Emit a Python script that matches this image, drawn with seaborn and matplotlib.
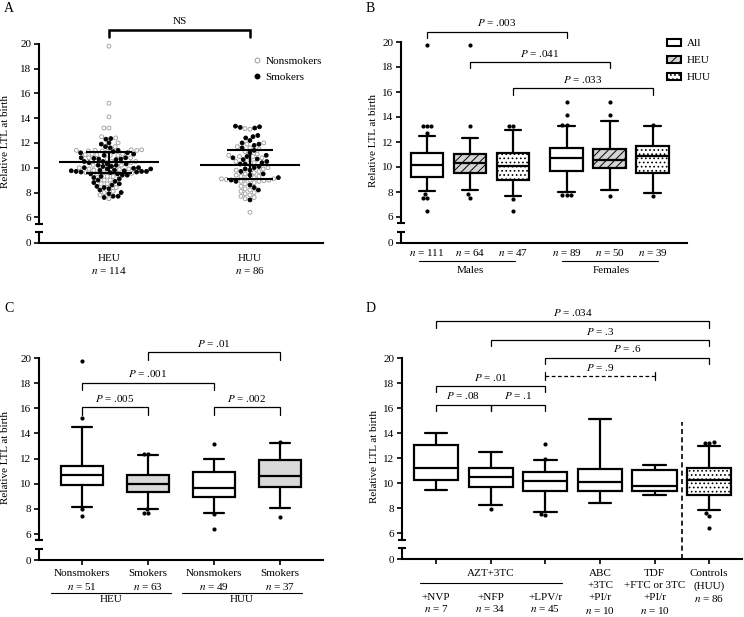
import numpy as np
import pandas as pd
import matplotlib
matplotlib.use("Agg")
import matplotlib.pyplot as plt
import matplotlib.transforms as mtransforms
from matplotlib.patches import Patch
from matplotlib.lines import Line2D
import seaborn as sns

# ---------------- data ----------------
Y0 = 3.93  # where the "0" of the broken axis sits

# panel A: individual values
heu_nonsmokers = [19.8, 15.2, 14.1, 13.2, 13.2, 12.5, 12.4, 12.0, 11.7,
                  11.45, 11.45, 11.4, 11.4, 11.4, 11.35, 11.35, 11.3,
                  11.1, 11.1, 11.05, 11.05, 11.0, 11.0,
                  10.8, 10.8, 10.7, 10.5, 10.5, 10.4, 10.2, 10.2,
                  9.9, 9.9, 9.85, 9.8, 9.6, 9.6, 9.55, 9.5,
                  9.3, 9.3, 9.0, 9.0, 8.7, 8.7, 8.4, 8.1, 8.0, 7.8, 7.5, 10.0]
heu_smokers = [12.35, 12.3, 12.0, 11.9, 11.7, 11.6, 11.4, 11.3, 11.2, 11.2,
               11.1, 11.0, 10.8, 10.8, 10.75, 10.7, 10.7, 10.65, 10.5, 10.5,
               10.4, 10.3, 10.3, 10.2, 10.2, 10.1, 10.1, 10.0, 10.0, 9.95,
               9.9, 9.9, 9.8, 9.8, 9.75, 9.75, 9.7, 9.7, 9.7, 9.65,
               9.65, 9.6, 9.5, 9.5, 9.4, 9.4, 9.3, 9.2, 9.1, 9.0,
               8.9, 8.8, 8.7, 8.6, 8.5, 8.4, 8.3, 8.2, 8.0, 7.9,
               7.7, 7.7, 7.6]
huu_nonsmokers = [13.15, 13.1, 12.0, 11.9, 11.7, 11.6, 11.5, 11.3, 11.1, 11.0,
                  10.9, 10.9, 10.8, 10.6, 10.5, 10.4, 10.2, 10.0, 9.9, 9.8,
                  9.7, 9.6, 9.5, 9.4, 9.3, 9.3, 9.2, 9.1, 9.1, 9.1,
                  9.05, 9.0, 9.0, 8.95, 8.9, 8.9, 8.8, 8.7, 8.5, 8.3,
                  8.2, 8.1, 8.0, 7.9, 7.8, 7.7, 7.6, 7.5, 6.4]
huu_smokers = [13.35, 13.3, 13.25, 13.2, 12.6, 12.5, 12.4, 12.2, 12.0, 11.9,
               11.8, 11.6, 11.4, 11.2, 11.0, 10.9, 10.8, 10.7, 10.65, 10.5,
               10.4, 10.3, 10.3, 10.1, 10.0, 9.9, 9.8, 9.7, 9.5, 9.4,
               9.2, 9.0, 8.9, 8.6, 8.4, 8.2, 7.4]
a_groups = ["HEU", "HUU"]
a_n = [114, 86]
a_mean = [10.42, 10.25]
a_sd = [0.85, 1.18]

# panel B: box statistics (All / HEU / HUU, males then females)
b_n = [111, 64, 47, 89, 50, 39]
b_q1 = [9.2, 9.55, 9.0, 9.7, 9.95, 9.55]
b_med = [10.15, 10.3, 10.05, 10.75, 10.6, 10.85]
b_q3 = [11.1, 11.05, 11.1, 11.5, 11.45, 11.65]
b_lo = [8.1, 8.2, 7.7, 8.0, 8.15, 7.9]
b_hi = [12.5, 12.3, 13.0, 13.3, 13.65, 13.3]
b_fliers = [[19.8, 13.28, 13.28, 13.28, 12.75, 7.85, 7.55, 7.55, 6.45],
            [19.8, 13.25, 7.85, 7.55],
            [13.3, 13.3, 7.45, 6.45],
            [15.2, 14.15, 13.4, 13.4, 7.8, 7.75, 7.75],
            [15.2, 14.15, 7.7],
            [13.4, 7.65]]
b_pvals = [".003", ".041", ".033"]

# panel C
c_labels = ["Nonsmokers", "Smokers", "Nonsmokers", "Smokers"]
c_n = [51, 63, 49, 37]
c_q1 = [9.9, 9.35, 8.93, 9.72]
c_med = [10.7, 10.0, 9.62, 10.65]
c_q3 = [11.37, 10.73, 10.9, 11.9]
c_lo = [8.18, 7.98, 7.68, 8.1]
c_hi = [14.55, 12.25, 11.96, 13.23]
c_fliers = [[19.8, 15.2, 8.0, 7.46],
            [12.38, 12.38, 8.0, 7.68, 7.68],
            [13.15, 7.6, 6.4],
            [13.34, 7.38]]
c_pvals = [".005", ".001", ".01", ".002"]

# panel D
d_q1 = [10.27, 9.68, 9.36, 9.41, 9.36, 9.07]
d_med = [11.2, 10.53, 10.19, 10.08, 9.79, 10.27]
d_q3 = [13.07, 11.2, 10.88, 11.12, 11.07, 11.25]
d_lo = [9.47, 8.24, 7.68, 8.45, 9.09, 7.87]
d_hi = [14.05, 12.48, 11.87, 15.15, 11.49, 12.99]
d_fliers = [[], [7.97], [13.15, 11.95, 7.57, 7.47], [], [],
            [13.3, 13.25, 13.25, 7.6, 7.36, 6.4]]
d_pvals = [".034", ".3", ".6", ".9", ".01", ".08", ".1"]

# ---------------- style ----------------
sns.set_style("ticks", {"axes.edgecolor": "black", "xtick.color": "black",
                        "ytick.color": "black", "text.color": "black",
                        "axes.labelcolor": "black"})
plt.rcParams["font.family"] = ["Liberation Serif", "DejaVu Serif"]
plt.rcParams["mathtext.fontset"] = "stix"
plt.rcParams["font.size"] = 8
plt.rcParams["hatch.linewidth"] = 0.7

W, H = 744, 617
fig = plt.figure(figsize=(W / 100, H / 100), dpi=100)
fig.patch.set_facecolor("white")


def make_axes(left, right, y20, y6, xlim, xticks, ylab_px):
    pu = (y6 - y20) / 14
    top = y20 - 0.3 * pu
    bottom = y6 + (6 - Y0) * pu
    ax = fig.add_axes([left / W, 1 - bottom / H, (right - left) / W, (bottom - top) / H])
    ax.set_facecolor("none")
    return ax, dict(xlim=xlim, xticks=xticks, ylab=(ylab_px - left) / (right - left))


def finish(ax, opts):
    ax.set_xlim(*opts["xlim"])
    ax.set_ylim(Y0, 20.3)
    sns.despine(ax=ax)
    ax.spines["left"].set_bounds(5.5, 20)
    for s in ["left", "bottom"]:
        ax.spines[s].set_linewidth(1.5)
    ax.set_yticks([Y0] + list(range(6, 21, 2)))
    ax.set_yticklabels(["0"] + [str(v) for v in range(6, 21, 2)])
    ax.tick_params(axis="y", length=3.5, width=1.2, pad=2, labelsize=8)
    ax.set_xticks(opts["xticks"])
    ax.set_xticklabels([])
    ax.tick_params(axis="x", length=3.5, width=1.2)
    blend = mtransforms.blended_transform_factory(ax.transAxes, ax.transData)
    ax.plot([0, 0], [Y0, 4.8], color="k", lw=1.5, transform=blend, clip_on=False,
            solid_capstyle="butt")
    ax.plot([0, 0], [5.5, 4.8], ls="", marker="_", ms=6, mew=1.5, color="k",
            transform=blend, clip_on=False)
    ax.set_xlabel("")
    ax.set_ylabel("Relative LTL at birth", fontsize=8)
    ax.yaxis.set_label_coords(opts["ylab"], 0.5)


def under(ax, x, ypx, s, **kw):
    tr = mtransforms.blended_transform_factory(ax.transData, fig.transFigure)
    ax.text(x, 1 - ypx / H, s, transform=tr, ha="center", va="center", fontsize=8, **kw)


def underline(ax, x1, x2, ypx):
    tr = mtransforms.blended_transform_factory(ax.transData, fig.transFigure)
    ax.plot([x1, x2], [1 - ypx / H] * 2, color="k", lw=0.8, transform=tr, clip_on=False)


def bracket(ax, x1, x2, y, label, drop=0.5, lw=0.9, dashed=False):
    if dashed:
        ax.plot([x1, x2], [y, y], color="k", lw=lw, ls=(0, (3, 2)), clip_on=False)
        for xx in (x1, x2):
            ax.plot([xx, xx], [y - 0.35, y + 0.35], color="k", lw=lw, clip_on=False)
    else:
        ax.plot([x1, x1, x2, x2], [y - drop, y, y, y - drop], color="k", lw=lw,
                clip_on=False, solid_joinstyle="miter")
    ax.text((x1 + x2) / 2, y + 0.7, label, ha="center", va="center", fontsize=8)


def boxes(ax, pos, q1, med, q3, lo, hi, width, capw, faces, hatches):
    stats = [dict(med=m, q1=a, q3=b, whislo=l, whishi=h, fliers=[])
             for a, m, b, l, h in zip(q1, med, q3, lo, hi)]
    res = ax.bxp(stats, positions=pos, widths=width, capwidths=capw,
                 patch_artist=True, showfliers=False, manage_ticks=False,
                 boxprops=dict(lw=1.6, edgecolor="k"),
                 whiskerprops=dict(lw=1.6, color="k"),
                 capprops=dict(lw=1.6, color="k"),
                 medianprops=dict(lw=1.6, color="k"))
    for patch, fc, ht in zip(res["boxes"], faces, hatches):
        patch.set_facecolor(fc)
        patch.set_hatch(ht)


def fliers(ax, pos, flier_lists):
    xs, ys = [], []
    for p, fl in zip(pos, flier_lists):
        xs += [p] * len(fl)
        ys += fl
    sns.swarmplot(x=xs, y=ys, native_scale=True, orient="x", color="black",
                  size=3, linewidth=0, ax=ax, zorder=4)


HATCH_HEU = "////"
HATCH_HUU = "...."

# ---------------- panel A ----------------
ax, opts = make_axes(39, 323, 43.7, 217.3, (-0.496, 1.518), [], 10)
df_a = pd.DataFrame({
    "group": ["HEU"] * (len(heu_nonsmokers) + len(heu_smokers))
             + ["HUU"] * (len(huu_nonsmokers) + len(huu_smokers)),
    "smoking": ["Nonsmokers"] * len(heu_nonsmokers) + ["Smokers"] * len(heu_smokers)
               + ["Nonsmokers"] * len(huu_nonsmokers) + ["Smokers"] * len(huu_smokers),
    "ltl": heu_nonsmokers + heu_smokers + huu_nonsmokers + huu_smokers,
})
sns.swarmplot(data=df_a, x="group", y="ltl", hue="smoking", order=a_groups,
              hue_order=["Nonsmokers", "Smokers"],
              palette={"Nonsmokers": "white", "Smokers": "black"},
              size=2.8, linewidth=0.6, edgecolor="#999999", legend=False, ax=ax, zorder=2)
for coll in ax.collections:
    fc = coll.get_facecolors()
    if len(fc):
        ec = ["#9a9a9a" if c[:3].sum() > 2.5 else "black" for c in fc]
        coll.set_edgecolors(ec)
pos_a = np.arange(len(a_groups))
m = np.array(a_mean)
sd = np.array(a_sd)
ax.hlines(m, pos_a - 0.355, pos_a + 0.355, color="k", lw=1.5, zorder=5)
ax.hlines(m - sd, pos_a - 0.165, pos_a + 0.165, color="k", lw=1.5, zorder=5)
ax.hlines(m + sd, pos_a - 0.165, pos_a + 0.165, color="k", lw=1.5, zorder=5)
ax.vlines(pos_a, m - sd, m + sd, color="k", lw=1.5, zorder=5)
finish(ax, opts)
ax.tick_params(axis="x", length=0)
for p, g, n in zip(pos_a, a_groups, a_n):
    under(ax, p, 258, g)
    under(ax, p, 270, f"$n$ = {n}")
bracket(ax, 0, 1, 21.13, "NS", drop=0.57, lw=1.8)
fig.legend(handles=[Line2D([], [], marker="o", ls="", mfc="white", mec="#9a9a9a", mew=0.7, ms=3.5),
                    Line2D([], [], marker="o", ls="", mfc="black", mec="black", ms=3.2)],
           labels=["Nonsmokers", "Smokers"], loc="upper left",
           bbox_to_anchor=(253 / W, 1 - 56 / H), frameon=False, borderpad=0,
           borderaxespad=0, handlelength=0.8, handletextpad=0.3, labelspacing=0.55,
           fontsize=8)

# ---------------- panel B ----------------
pos_b = [0, 1, 2, 3.25, 4.25, 5.25]
ax, opts = make_axes(401, 687, 42, 217, (-0.605, 6.05), [], 378)
boxes(ax, pos_b, b_q1, b_med, b_q3, b_lo, b_hi, 0.76, 0.39,
      ["white", "#d4d4d4", "white"] * 2, ["", HATCH_HEU, HATCH_HUU] * 2)
fliers(ax, pos_b, b_fliers)
finish(ax, opts)
ax.tick_params(axis="x", length=0)
for p, n in zip(pos_b, b_n):
    under(ax, p, 253, f"$n$ = {n}")
underline(ax, -0.19, 2.05, 261)
underline(ax, 3.14, 5.37, 261)
under(ax, 1.0, 270, "Males")
under(ax, 4.28, 270, "Females")
for (i, j), y, pv in zip([(0, 3), (1, 4), (2, 5)], [20.83, 18.39, 16.3], b_pvals):
    bracket(ax, pos_b[i], pos_b[j], y, f"$P$ = {pv}")
fig.legend(handles=[Patch(facecolor="white", edgecolor="k", lw=1.5),
                    Patch(facecolor="#d4d4d4", edgecolor="k", lw=1.5, hatch=HATCH_HEU),
                    Patch(facecolor="white", edgecolor="k", lw=1.5, hatch=HATCH_HUU)],
           labels=["All", "HEU", "HUU"], loc="upper left",
           bbox_to_anchor=(667 / W, 1 - 39 / H), frameon=False, borderpad=0,
           borderaxespad=0, handlelength=1.3, handleheight=0.55, handletextpad=0.5,
           labelspacing=0.7, fontsize=8)

# ---------------- panel C ----------------
pos_c = [0, 1, 2, 3]
ax, opts = make_axes(39, 323, 358, 534, (-0.652, 3.652), pos_c, 10)
boxes(ax, pos_c, c_q1, c_med, c_q3, c_lo, c_hi, 0.65, 0.31,
      ["white", "#d9d9d9", "white", "#d9d9d9"], [""] * 4)
fliers(ax, pos_c, c_fliers)
finish(ax, opts)
for p, lab, n in zip(pos_c, c_labels, c_n):
    under(ax, p, 574, lab)
    under(ax, p, 586, f"$n$ = {n}")
underline(ax, -0.47, 1.35, 593)
underline(ax, 1.52, 3.33, 593)
under(ax, 0.44, 600, "HEU")
under(ax, 2.42, 600, "HUU")
for (i, j), y, pv in zip([(0, 1), (0, 2), (1, 3), (2, 3)], [16.1, 18.04, 20.45, 16.1], c_pvals):
    bracket(ax, pos_c[i], pos_c[j], y, f"$P$ = {pv}", drop=0.6)

# ---------------- panel D ----------------
pos_d = [0, 1, 2, 3, 4, 5]
ax, opts = make_axes(402, 742, 358.3, 533.3, (-0.623, 5.6), pos_d, 379)
boxes(ax, pos_d, d_q1, d_med, d_q3, d_lo, d_hi, 0.81, 0.41,
      ["white"] * 6, [""] * 5 + [HATCH_HUU])
fliers(ax, pos_d, d_fliers)
ax.vlines(4.5, Y0, 14.9, color="k", lw=1.2, linestyles=(0, (3, 2)))
finish(ax, opts)
under(ax, 1, 574, "AZT+3TC")
underline(ax, -0.3, 2.3, 583)
for p, lab, n in zip(pos_d[:3], ["+NVP", "+NFP", "+LPV/r"], [7, 34, 45]):
    under(ax, p, 598, lab)
    under(ax, p, 609, f"$n$ = {n}")
for p, rows in zip([3, 4, 5], [["ABC", "+3TC", "+PI/r", "$n$ = 10"],
                               ["TDF", "+FTC or 3TC", "+PI/r", "$n$ = 10"],
                               ["Controls", "(HUU)", "$n$ = 86"]]):
    for k, r in enumerate(rows):
        under(ax, p, 574 + 12 * k, r)
d_pairs = [(0, 5), (1, 5), (2, 5), (2, 4), (0, 2), (0, 1), (1, 2)]
d_levels = [22.95, 21.47, 20.05, 18.58, 17.8, 16.3, 16.3]
for (i, j), y, pv in zip(d_pairs, d_levels, d_pvals):
    bracket(ax, pos_d[i], pos_d[j], y, f"$P$ = {pv}", dashed=(pv == ".9"))

# panel letters
for s, x, y in [("A", 4, 9), ("B", 366, 9), ("C", 4, 309), ("D", 366, 309)]:
    fig.text(x / W, 1 - y / H, s, fontsize=10, ha="left", va="center")

fig.savefig("out.png", dpi=100)
